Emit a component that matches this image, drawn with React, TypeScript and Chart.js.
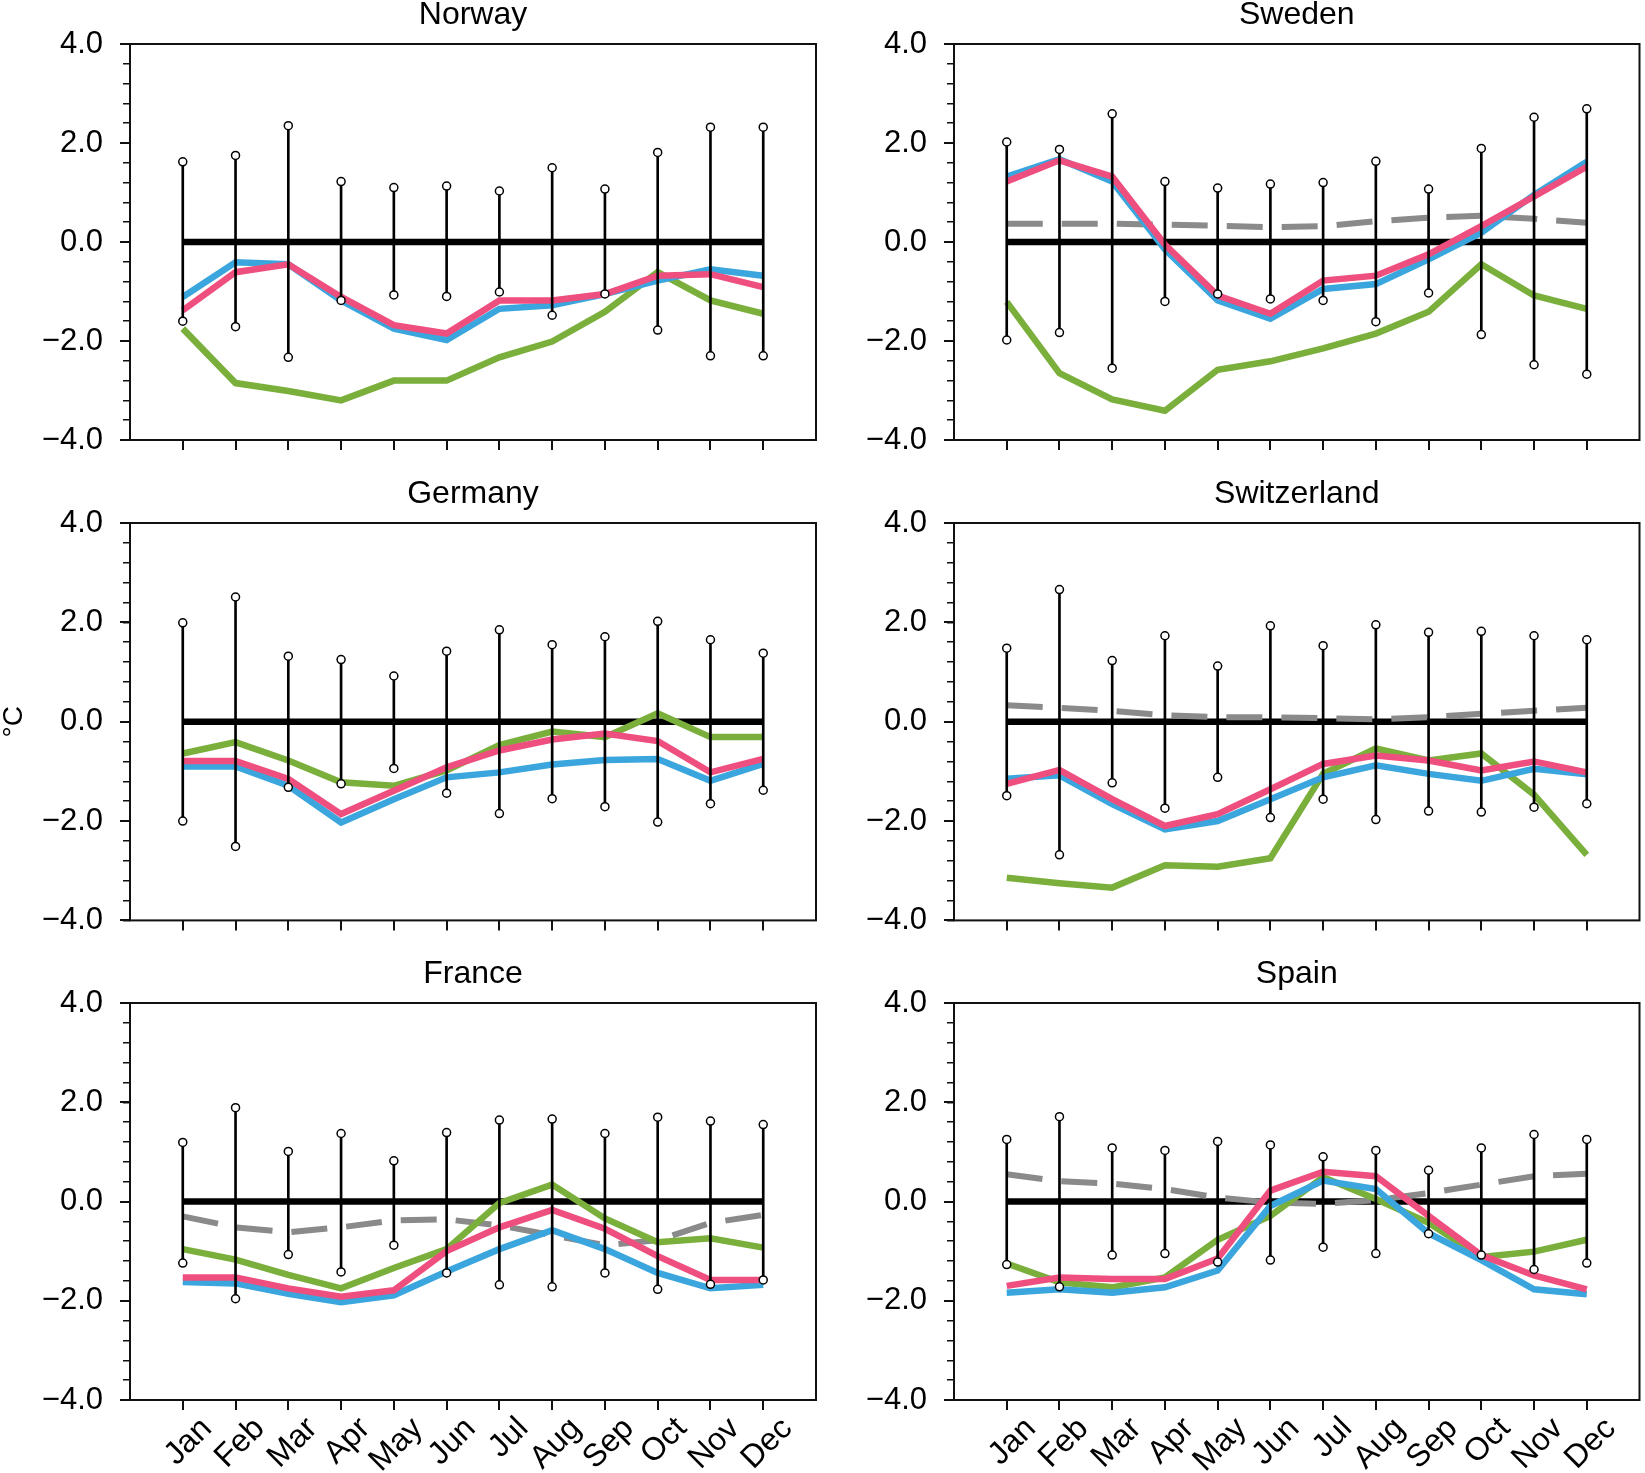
import { useEffect, useRef } from 'react';
import { Chart, registerables } from 'chart.js';

Chart.register(...registerables);

const FONT = "'Liberation Sans', Arial, Helvetica, sans-serif";

const MONTHS = ['Jan', 'Feb', 'Mar', 'Apr', 'May', 'Jun', 'Jul', 'Aug', 'Sep', 'Oct', 'Nov', 'Dec'];
const Y_MAJOR = [-4, -2, 0, 2, 4];
const Y_MINOR = [-4, -3.6, -3.2, -2.8, -2.4, -2, -1.6, -1.2, -0.8, -0.4, 0, 0.4, 0.8, 1.2, 1.6, 2, 2.4, 2.8, 3.2, 3.6, 4];
const ZERO_LINE = [0, 0, 0, 0, 0, 0, 0, 0, 0, 0, 0, 0];

const BLUE = '#3aa6dd';
const RED = '#ee4f7f';
const GREEN = '#7aaf3c';
const GRAY = '#8a8a8a';

// Norway
const norwayHi = [1.62, 1.75, 2.35, 1.22, 1.1, 1.13, 1.03, 1.5, 1.07, 1.81, 2.32, 2.32];
const norwayLo = [-1.6, -1.71, -2.33, -1.18, -1.07, -1.1, -1.01, -1.48, -1.05, -1.78, -2.3, -2.3];
const norwayBlue = [-1.11, -0.41, -0.45, -1.18, -1.75, -1.98, -1.35, -1.28, -1.05, -0.78, -0.55, -0.68];
const norwayRed = [-1.38, -0.61, -0.45, -1.11, -1.68, -1.85, -1.18, -1.18, -1.05, -0.68, -0.65, -0.91];
const norwayGreen = [-1.75, -2.85, -3.01, -3.2, -2.8, -2.8, -2.33, -2.01, -1.41, -0.61, -1.18, -1.45];

// Sweden
const swedenHi = [2.02, 1.87, 2.59, 1.22, 1.09, 1.17, 1.2, 1.63, 1.07, 1.89, 2.52, 2.69];
const swedenLo = [-1.98, -1.83, -2.55, -1.2, -1.05, -1.15, -1.18, -1.61, -1.03, -1.87, -2.48, -2.67];
const swedenBlue = [1.32, 1.67, 1.22, -0.15, -1.18, -1.55, -0.95, -0.85, -0.35, 0.19, 0.95, 1.62];
const swedenRed = [1.22, 1.65, 1.32, -0.05, -1.08, -1.45, -0.78, -0.68, -0.25, 0.32, 0.92, 1.52];
const swedenGreen = [-1.21, -2.65, -3.18, -3.41, -2.58, -2.41, -2.15, -1.85, -1.41, -0.45, -1.08, -1.35];
const swedenGray = [0.37, 0.37, 0.37, 0.35, 0.33, 0.3, 0.32, 0.42, 0.49, 0.53, 0.47, 0.39];

// Germany
const germanyHi = [1.99, 2.51, 1.32, 1.25, 0.92, 1.42, 1.85, 1.55, 1.71, 2.02, 1.65, 1.38];
const germanyLo = [-2.0, -2.51, -1.32, -1.25, -0.94, -1.44, -1.85, -1.55, -1.71, -2.02, -1.65, -1.38];
const germanyBlue = [-0.9, -0.9, -1.29, -2.03, -1.56, -1.12, -1.02, -0.86, -0.77, -0.75, -1.19, -0.85];
const germanyRed = [-0.79, -0.79, -1.15, -1.86, -1.39, -0.92, -0.58, -0.36, -0.24, -0.39, -1.02, -0.75];
const germanyGreen = [-0.64, -0.41, -0.78, -1.22, -1.29, -0.98, -0.47, -0.2, -0.31, 0.17, -0.31, -0.31];

// Switzerland
const swissHi = [1.48, 2.66, 1.23, 1.73, 1.12, 1.93, 1.53, 1.95, 1.8, 1.82, 1.73, 1.65];
const swissLo = [-1.49, -2.68, -1.23, -1.74, -1.12, -1.93, -1.56, -1.97, -1.8, -1.82, -1.72, -1.65];
const swissBlue = [-1.15, -1.08, -1.66, -2.17, -2.0, -1.56, -1.12, -0.88, -1.05, -1.19, -0.95, -1.06];
const swissRed = [-1.25, -0.97, -1.56, -2.1, -1.86, -1.36, -0.85, -0.68, -0.78, -0.98, -0.8, -1.02];
const swissGreen = [-3.14, -3.25, -3.34, -2.89, -2.92, -2.75, -1.05, -0.54, -0.78, -0.64, -1.47, -2.68];
const swissGray = [0.33, 0.28, 0.22, 0.13, 0.09, 0.09, 0.07, 0.05, 0.09, 0.16, 0.22, 0.28];

// France
const franceHi = [1.19, 1.89, 1.01, 1.37, 0.82, 1.39, 1.64, 1.66, 1.37, 1.7, 1.62, 1.55];
const franceLo = [-1.24, -1.96, -1.07, -1.42, -0.88, -1.44, -1.68, -1.72, -1.44, -1.77, -1.67, -1.58];
const franceBlue = [-1.62, -1.65, -1.86, -2.03, -1.89, -1.41, -0.96, -0.58, -0.96, -1.44, -1.75, -1.68];
const franceRed = [-1.53, -1.53, -1.75, -1.92, -1.79, -1.0, -0.52, -0.17, -0.55, -1.1, -1.58, -1.58];
const franceGreen = [-0.96, -1.17, -1.48, -1.75, -1.34, -0.96, -0.03, 0.34, -0.34, -0.82, -0.74, -0.93];
const franceGray = [-0.3, -0.52, -0.62, -0.52, -0.38, -0.36, -0.48, -0.68, -0.88, -0.78, -0.43, -0.27];

// Spain
const spainHi = [1.25, 1.71, 1.08, 1.03, 1.21, 1.14, 0.9, 1.03, 0.63, 1.08, 1.35, 1.25];
const spainLo = [-1.27, -1.72, -1.08, -1.05, -1.22, -1.18, -0.92, -1.05, -0.65, -1.08, -1.37, -1.24];
const spainBlue = [-1.84, -1.77, -1.84, -1.73, -1.39, -0.09, 0.42, 0.25, -0.64, -1.18, -1.77, -1.87];
const spainRed = [-1.7, -1.53, -1.56, -1.56, -1.15, 0.22, 0.6, 0.51, -0.29, -1.08, -1.49, -1.77];
const spainGreen = [-1.25, -1.63, -1.73, -1.53, -0.77, -0.29, 0.49, 0.05, -0.43, -1.12, -1.01, -0.77];
const spainGray = [0.55, 0.41, 0.36, 0.25, 0.08, -0.02, -0.05, 0.03, 0.17, 0.34, 0.51, 0.56];

type PanelDef = {
  title: string;
  row: number;
  col: number;
  hi: number[];
  lo: number[];
  blue: number[];
  red: number[];
  green: number[];
  gray?: number[];
  yTitle?: string;
};

const PANELS: PanelDef[] = [
  { title: 'Norway', row: 0, col: 0, hi: norwayHi, lo: norwayLo, blue: norwayBlue, red: norwayRed, green: norwayGreen },
  { title: 'Sweden', row: 0, col: 1, hi: swedenHi, lo: swedenLo, blue: swedenBlue, red: swedenRed, green: swedenGreen, gray: swedenGray },
  { title: 'Germany', row: 1, col: 0, hi: germanyHi, lo: germanyLo, blue: germanyBlue, red: germanyRed, green: germanyGreen, yTitle: '°C' },
  { title: 'Switzerland', row: 1, col: 1, hi: swissHi, lo: swissLo, blue: swissBlue, red: swissRed, green: swissGreen, gray: swissGray },
  { title: 'France', row: 2, col: 0, hi: franceHi, lo: franceLo, blue: franceBlue, red: franceRed, green: franceGreen, gray: franceGray },
  { title: 'Spain', row: 2, col: 1, hi: spainHi, lo: spainLo, blue: spainBlue, red: spainRed, green: spainGreen, gray: spainGray },
];

// canvas placement on the page
const COL_LEFT = [0, 822];
const COL_WIDTH = [822, 823];
const Y_WIDTH = [130, 132];
const PAD_RIGHT = [6, 3];
const ROW_TOP = [-1, 478, 958];
const ROW_HEIGHT = [479, 478, 515];
const X_HEIGHT = [38, 35, 73];

const pts = (arr: number[]) => arr.map((y, i) => ({ x: i + 1, y }));

const fmt = (v: number) => (v < 0 ? '\u2212' : '') + Math.abs(v).toFixed(1);

const framePlugin = {
  id: 'frame',
  afterDraw(chart: any) {
    const { ctx, chartArea: a } = chart;
    ctx.save();
    ctx.strokeStyle = '#111';
    ctx.lineWidth = 2;
    ctx.strokeRect(a.left, a.top, a.right - a.left, a.bottom - a.top);
    ctx.restore();
  },
};

function lineSet(data: number[], color: string, order: number, width = 6.5, dash: number[] = []) {
  return {
    type: 'line' as const,
    data: pts(data),
    borderColor: color,
    backgroundColor: color,
    borderWidth: width,
    borderDash: dash,
    borderCapStyle: 'butt' as const,
    pointRadius: 0,
    tension: 0,
    fill: false,
    order,
  };
}

function markerSet(data: number[]) {
  return {
    type: 'line' as const,
    data: pts(data),
    showLine: false,
    pointRadius: 4,
    pointBackgroundColor: '#fff',
    pointBorderColor: '#000',
    pointBorderWidth: 1.5,
    order: 0,
  };
}

function Panel({ p }: { p: PanelDef }) {
  const canvasRef = useRef<HTMLCanvasElement | null>(null);
  const chartRef = useRef<Chart | null>(null);
  const width = COL_WIDTH[p.col];
  const height = ROW_HEIGHT[p.row];
  const showMonths = p.row === 2;

  useEffect(() => {
    const ctx = canvasRef.current?.getContext('2d');
    if (!ctx) return;

    const datasets: any[] = [
      markerSet(p.hi),
      markerSet(p.lo),
      {
        type: 'bar',
        data: p.hi.map((h, i) => ({ x: i + 1, y: [p.lo[i], h] })),
        backgroundColor: '#000',
        borderWidth: 0,
        barThickness: 2,
        order: 1,
      },
      lineSet(p.red, RED, 2),
      lineSet(p.blue, BLUE, 3),
      lineSet(p.green, GREEN, 4),
    ];
    if (p.gray) datasets.push(lineSet(p.gray, GRAY, 5, 6, [36, 19]));
    datasets.push(lineSet(ZERO_LINE, '#000', 6, 6.5));

    chartRef.current = new Chart(ctx, {
      type: 'line',
      data: { datasets },
      options: {
        responsive: false,
        animation: false,
        events: [],
        layout: { padding: { left: 0, right: PAD_RIGHT[p.col], top: 0, bottom: 0 } },
        plugins: {
          legend: { display: false },
          tooltip: { enabled: false },
          title: {
            display: true,
            text: p.title,
            fullSize: false,
            color: '#000',
            font: { family: FONT, size: 32, weight: 'normal', lineHeight: 1 },
            padding: { top: 0, bottom: 13 },
          },
        },
        scales: {
          x: {
            type: 'linear',
            min: 0,
            max: 13,
            offset: false,
            afterBuildTicks: (s: any) => {
              s.ticks = MONTHS.map((_, i) => ({ value: i + 1 }));
            },
            afterFit: (s: any) => {
              s.height = X_HEIGHT[p.row];
            },
            border: { display: false },
            grid: { offset: false, drawOnChartArea: false, drawTicks: true, tickLength: 10, color: '#111', lineWidth: 2 },
            ticks: {
              display: showMonths,
              autoSkip: false,
              minRotation: 45,
              maxRotation: 45,
              labelOffset: 24,
              padding: 0,
              color: '#000',
              font: { family: FONT, size: 32 },
              callback: (v: any) => MONTHS[Number(v) - 1] ?? '',
            },
          },
          y: {
            type: 'linear',
            position: 'left',
            min: -4,
            max: 4,
            weight: 1,
            afterBuildTicks: (s: any) => {
              s.ticks = Y_MAJOR.map((v) => ({ value: v }));
            },
            afterFit: (s: any) => {
              s.width = Y_WIDTH[p.col];
            },
            border: { display: false },
            grid: { drawOnChartArea: false, tickLength: 10, color: '#111', lineWidth: 2 },
            ticks: {
              padding: 17,
              color: '#000',
              font: { family: FONT, size: 31 },
              callback: (v: any) => fmt(Number(v)),
            },
            title: {
              display: !!p.yTitle,
              text: p.yTitle ?? '',
              color: '#000',
              padding: 0,
              font: { family: FONT, size: 28, lineHeight: 1 },
            },
          },
          yMinor: {
            type: 'linear',
            position: 'left',
            min: -4,
            max: 4,
            weight: 0,
            afterBuildTicks: (s: any) => {
              s.ticks = Y_MINOR.map((v) => ({ value: v }));
            },
            afterFit: (s: any) => {
              s.width = 0;
            },
            border: { display: false },
            grid: { drawOnChartArea: false, tickLength: 7, color: '#111', lineWidth: 1.5 },
            ticks: { display: false },
          },
        },
      } as any,
      plugins: [framePlugin],
    });

    return () => chartRef.current?.destroy();
  }, [p]);

  return (
    <canvas
      ref={canvasRef}
      width={width}
      height={height}
      style={{ position: 'absolute', left: COL_LEFT[p.col], top: ROW_TOP[p.row], width, height }}
    />
  );
}

export default function App() {
  return (
    <div
      style={{
        position: 'absolute',
        left: 0,
        top: 0,
        width: 1645,
        height: 1473,
        overflow: 'hidden',
        background: '#fff',
      }}
    >
      {PANELS.map((p) => (
        <Panel key={p.title} p={p} />
      ))}
    </div>
  );
}
